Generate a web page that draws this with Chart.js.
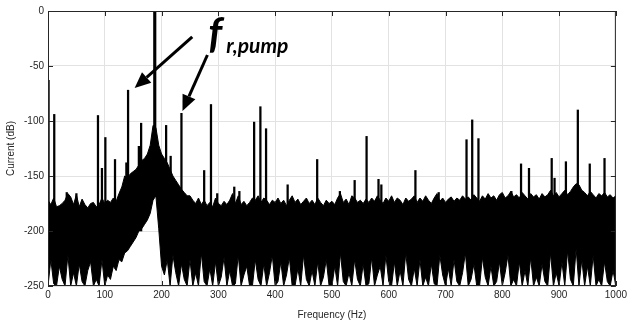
<!DOCTYPE html>
<html>
<head>
<meta charset="utf-8">
<script src="https://cdn.jsdelivr.net/npm/chart.js@4.4.1/dist/chart.umd.min.js"></script>
<style>
  html, body { margin: 0; padding: 0; background: #fff; }
  canvas { display: block; }
</style>
</head>
<body>
<canvas id="spectrum" width="630" height="322"></canvas>
<script>
// noise floor, read every 5 Hz from 0 to 1000 Hz (upper and lower edge of the black band)
const ENV_STEP_HZ = 5;
const noiseTop = [
  -172, -176, -170, -178, -177, -175, -172, -166, -169, -176,
  -167, -178, -171, -176, -179, -175, -174, -178, -176, -170,
  -175, -172, -174, -170, -173, -166, -160, -150, -152, -148,
  -146, -144, -140, -136, -134, -130, -122, -104, -106, -122,
  -130, -134, -138, -144, -150, -154, -158, -162, -165, -168,
  -168, -172, -175, -170, -176, -172, -177, -174, -178, -170,
  -175, -177, -173, -176, -172, -166, -175, -168, -176, -173,
  -177, -174, -170, -172, -168, -174, -170, -172, -176, -172,
  -174, -170, -175, -172, -177, -172, -168, -174, -171, -176,
  -173, -170, -175, -172, -176, -170, -174, -177, -172, -175,
  -173, -176, -170, -166, -174, -171, -176, -168, -170, -174,
  -172, -175, -171, -174, -170, -173, -168, -172, -175, -170,
  -173, -168, -174, -170, -172, -176, -170, -173, -171, -168,
  -174, -170, -173, -168, -172, -175, -170, -166, -173, -170,
  -174, -171, -169, -173, -170, -172, -168, -171, -169, -172,
  -167, -170, -173, -168, -171, -166, -170, -168, -172, -167,
  -165, -170, -168, -164, -169, -167, -170, -165, -168, -171,
  -166, -169, -167, -171, -166, -169, -167, -163, -168, -165,
  -169, -166, -163, -167, -164, -160, -157, -158, -163, -165,
  -168, -164, -167, -170, -166, -168, -165, -169, -167, -170,
  -168
];
const noiseBottom = [
  -250, -226, -248, -250, -232, -244, -250, -222, -250, -238,
  -250, -230, -246, -250, -236, -228, -250, -244, -250, -226,
  -250, -240, -244, -232, -236, -226, -228, -220, -218, -214,
  -210, -206, -200, -198, -194, -190, -184, -172, -168, -198,
  -232, -240, -226, -250, -222, -238, -250, -230, -244, -250,
  -226, -250, -238, -250, -220, -246, -250, -234, -250, -228,
  -250, -242, -224, -250, -236, -250, -248, -222, -250, -240,
  -232, -250, -250, -226, -244, -250, -230, -250, -238, -222,
  -250, -246, -228, -250, -240, -224, -250, -250, -234, -250,
  -222, -244, -250, -236, -250, -228, -250, -242, -226, -250,
  -250, -232, -250, -220, -246, -250, -238, -250, -226, -244,
  -250, -230, -250, -248, -224, -250, -240, -232, -250, -222,
  -246, -250, -228, -250, -236, -250, -220, -244, -250, -234,
  -250, -226, -250, -242, -250, -230, -248, -250, -222, -240,
  -250, -234, -250, -226, -246, -250, -238, -220, -250, -244,
  -230, -250, -250, -224, -242, -250, -232, -250, -246, -228,
  -250, -238, -222, -250, -244, -250, -228, -250, -236, -250,
  -224, -250, -242, -250, -230, -246, -250, -220, -250, -238,
  -250, -228, -250, -218, -244, -250, -216, -250, -226, -250,
  -232, -250, -222, -250, -244, -250, -228, -246, -250, -236,
  -250
];

// discrete spectral lines (Hz, peak dB)
const peakHz  = [1, 11, 33, 50, 88, 95, 101, 118, 138, 141, 160, 164, 208, 216, 235,
                 275, 287, 298, 328, 337, 363, 374, 384, 422, 474, 514, 540, 561, 582, 587,
                 647, 688, 737, 747, 758, 816, 833, 847, 887, 892, 912, 933, 954, 980];
const peakDb  = [-63, -94, -165, -166, -95, -143, -115, -135, -138, -72, -123, -102, -104, -132, -93,
                 -145, -85, -166, -160, -164, -101, -87, -107, -158, -135, -164, -154, -114, -153, -158,
                 -145, -165, -117, -99, -116, -164, -139, -143, -134, -152, -137, -90, -139, -134];
// supply fundamental
const mainHz = [188];
const mainDb = [0];

const xTicks = { min: 0, max: 1000, step: 100 };
const yTicks = { min: -250, max: 0, step: 50 };

const LINE_FLOOR = -200;
const FONT = "'Liberation Sans', Arial, Helvetica, sans-serif";
const INK = '#262626';

const toEnv = arr => arr.map((v, i) => ({ x: i * ENV_STEP_HZ, y: v }));

function drawArrow(ctx, x0, y0, x1, y1) {
    const ang = Math.atan2(y1 - y0, x1 - x0);
    const len = 16, half = 7;
    const bx = x1 - len * Math.cos(ang);
    const by = y1 - len * Math.sin(ang);
    ctx.lineWidth = 3;
    ctx.beginPath();
    ctx.moveTo(x0, y0);
    ctx.lineTo(bx, by);
    ctx.stroke();
    ctx.beginPath();
    ctx.moveTo(x1, y1);
    ctx.lineTo(bx + half * Math.sin(ang), by - half * Math.cos(ang));
    ctx.lineTo(bx - half * Math.sin(ang), by + half * Math.cos(ang));
    ctx.closePath();
    ctx.fill();
}

// box, inward ticks and the f_r,pump note
const frameAndNotes = {
    id: 'frameAndNotes',
    afterDatasetsDraw(chart) {
        const { ctx, chartArea: a, scales: { x, y } } = chart;
        ctx.save();
        ctx.strokeStyle = INK;
        ctx.lineWidth = 1;
        ctx.strokeRect(a.left + 0.5, a.top + 0.5, a.right - a.left - 1, a.bottom - a.top - 1);

        ctx.beginPath();
        x.ticks.forEach(t => {
            const px = Math.round(x.getPixelForValue(t.value)) + 0.5;
            ctx.moveTo(px, a.top); ctx.lineTo(px, a.top + 5);
            ctx.moveTo(px, a.bottom); ctx.lineTo(px, a.bottom - 5);
        });
        y.ticks.forEach(t => {
            const py = Math.round(y.getPixelForValue(t.value)) + 0.5;
            ctx.moveTo(a.left, py); ctx.lineTo(a.left + 5, py);
            ctx.moveTo(a.right, py); ctx.lineTo(a.right - 5, py);
        });
        ctx.stroke();

        ctx.fillStyle = '#000';
        ctx.strokeStyle = '#000';
        const p = (hz, db) => [x.getPixelForValue(hz), y.getPixelForValue(db)];
        const [t1x, t1y] = p(254, -23.6), [h1x, h1y] = p(152.6, -70);
        const [t2x, t2y] = p(280.7, -40), [h2x, h2y] = p(236.8, -91);
        drawArrow(ctx, t1x, t1y, h1x, h1y);
        drawArrow(ctx, t2x, t2y, h2x, h2y);

        const [fx, fy] = p(282, -33.6);
        ctx.font = "italic bold 42px Lato, 'Open Sans', sans-serif";
        ctx.textBaseline = 'alphabetic';
        ctx.fillText('f', fx, fy);
        const [sx, sy] = p(314, -38.2);
        ctx.font = "italic bold 21px Lato, 'Open Sans', sans-serif";
        ctx.fillText('r,pump', sx, sy);
        ctx.restore();
    }
};

new Chart(document.getElementById('spectrum'), {
    type: 'line',
    data: {
        datasets: [
            {
                type: 'bar',
                label: 'Fundamental',
                data: mainHz.map((f, i) => ({ x: f, y: [-140, mainDb[i]] })),
                backgroundColor: '#000',
                barThickness: 2.5,
                grouped: false
            },
            {
                type: 'bar',
                label: 'Lines',
                data: peakHz.map((f, i) => ({ x: f, y: [LINE_FLOOR, peakDb[i]] })),
                backgroundColor: '#000',
                barThickness: 1.6,
                grouped: false
            },
            {
                label: 'Noise top',
                data: toEnv(noiseTop),
                borderColor: '#000',
                backgroundColor: '#000',
                borderWidth: 1,
                pointRadius: 0,
                tension: 0,
                fill: '+1'
            },
            {
                label: 'Noise bottom',
                data: toEnv(noiseBottom),
                borderColor: '#000',
                borderWidth: 1,
                pointRadius: 0,
                tension: 0,
                fill: false
            }
        ]
    },
    options: {
        responsive: false,
        animation: false,
        devicePixelRatio: 1,
        layout: { padding: { top: 11, right: 12, left: 0, bottom: 0 } },
        plugins: { legend: { display: false }, tooltip: { enabled: false } },
        scales: {
            x: {
                type: 'linear',
                min: xTicks.min,
                max: xTicks.max,
                offset: false,
                afterFit: s => { s.height = 36; },
                grid: { color: '#e2e2e2', drawTicks: false, offset: false },
                border: { display: false },
                ticks: { stepSize: xTicks.step, color: INK, padding: 3, maxRotation: 0, callback: v => String(v), font: { family: FONT, size: 10 } },
                title: { display: true, text: 'Frequency (Hz)', color: INK, padding: { top: 0, bottom: 1 }, font: { family: FONT, size: 10 } }
            },
            y: {
                min: yTicks.min,
                max: yTicks.max,
                afterFit: s => { s.width = 48; },
                grid: { color: '#e2e2e2', drawTicks: false },
                border: { display: false },
                ticks: { stepSize: yTicks.step, color: INK, padding: 4, callback: v => String(v), font: { family: FONT, size: 10 } },
                title: { display: true, text: 'Current (dB)', color: INK, padding: { top: 5, bottom: 0 }, font: { family: FONT, size: 10 } }
            }
        }
    },
    plugins: [frameAndNotes]
});
</script>
</body>
</html>
